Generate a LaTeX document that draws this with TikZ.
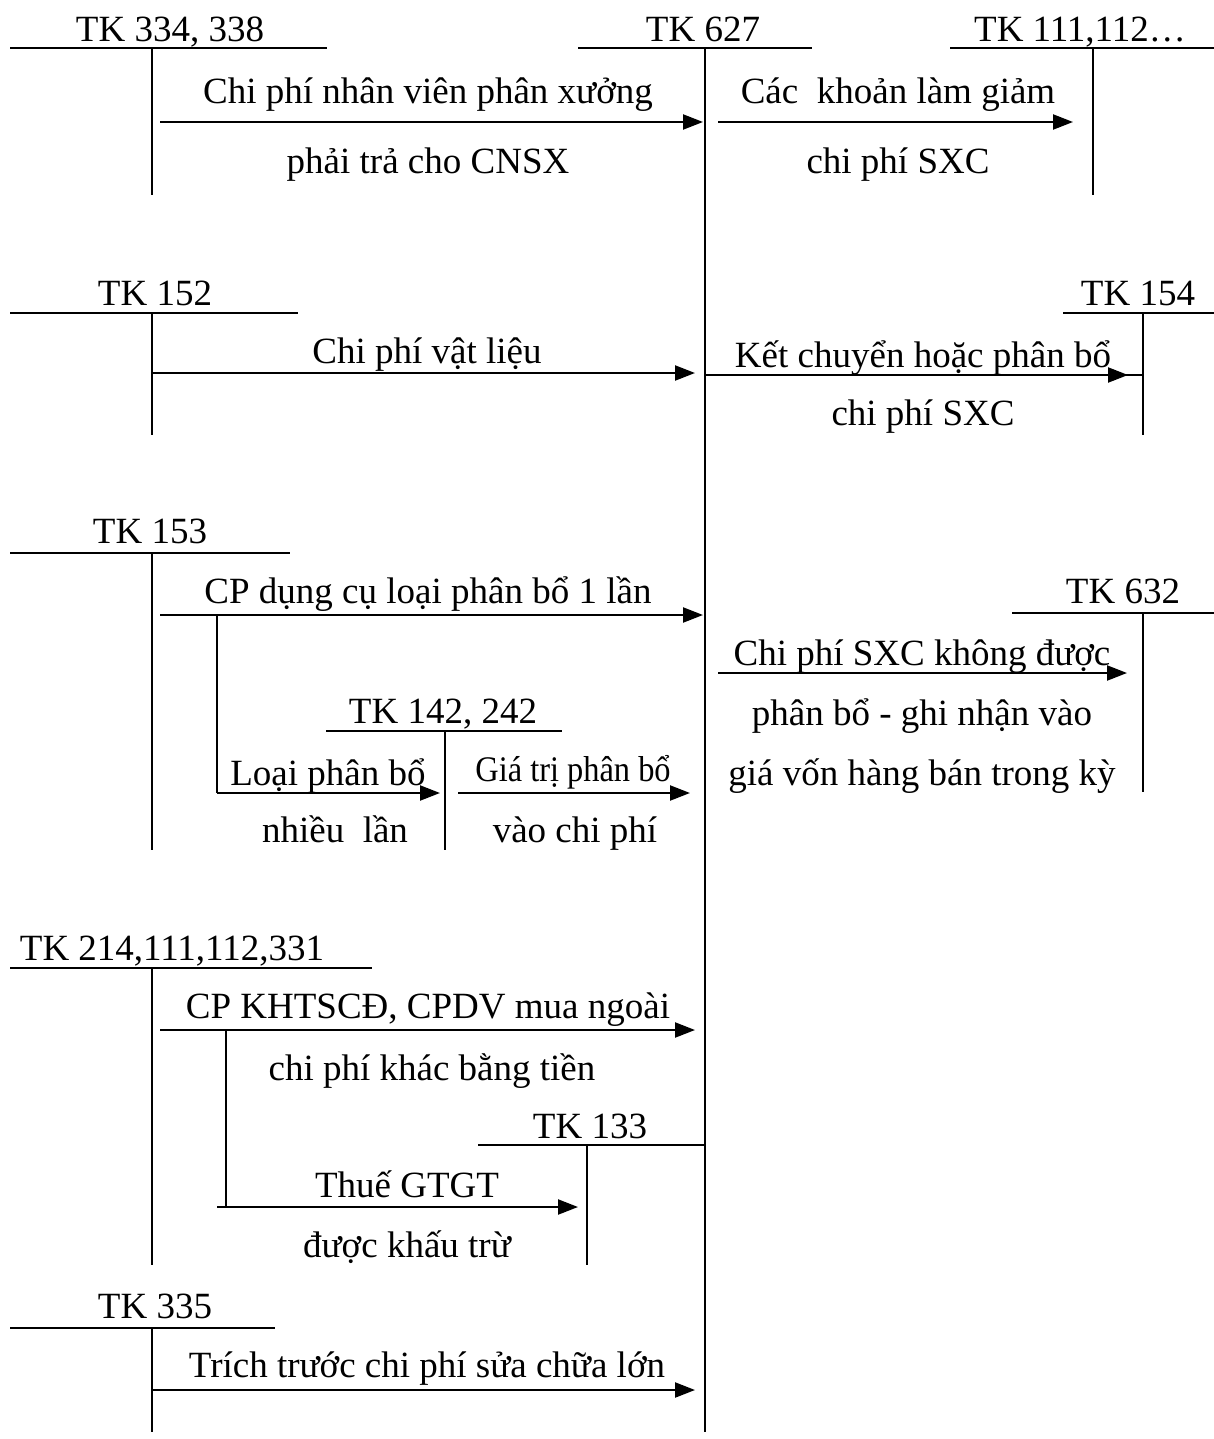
\documentclass[tikz,border=0pt]{standalone}
\usepackage{fontspec}
\usepackage{graphicx}
\setmainfont{Liberation Serif}
\usetikzlibrary{arrows.meta}
\begin{document}
\begin{tikzpicture}[x=1pt,y=-1pt,
  acc/.style={line width=2.2pt},
  flow/.style={line width=2.2pt,-{Triangle[length=20pt,width=15pt]}},
  lbl/.style={anchor=base,inner sep=0pt,font=\fontsize{37}{44}\selectfont},
  narrowlbl/.style={anchor=base,inner sep=0pt,font=\fontsize{36}{43}\selectfont}]
\useasboundingbox (0,0) rectangle (1214,1439);

% ---------- TK 627 (main)
\node[lbl] (t627) at (703,42) {TK 627};
\coordinate (m627L) at (578,48); \coordinate (m627R) at (812,48);
\coordinate (m627T) at (705,48); \coordinate (m627B) at (705,1432);
\draw[acc] (m627L) -- (m627R);
\draw[acc] (m627T) -- (m627B);

% ---------- TK 334, 338
\node[lbl] (t334) at (170,42) {TK 334, 338};
\coordinate (a334L) at (10,48); \coordinate (a334R) at (327,48);
\coordinate (a334T) at (152,48); \coordinate (a334B) at (152,195);
\draw[acc] (a334L) -- (a334R);
\draw[acc] (a334T) -- (a334B);
\coordinate (f1s) at (160,122); \coordinate (f1e) at (703,122);
\draw[flow] (f1s) -- (f1e);
\node[lbl] (l1a) at (428,104) {Chi phí nhân viên phân xưởng};
\node[lbl] (l1b) at (428,174) {phải trả cho CNSX};

% ---------- TK 111,112...
\node[lbl] (t111) at (1080,42) {TK 111,112…};
\coordinate (a111L) at (950,48); \coordinate (a111R) at (1214,48);
\coordinate (a111T) at (1093,48); \coordinate (a111B) at (1093,195);
\draw[acc] (a111L) -- (a111R);
\draw[acc] (a111T) -- (a111B);
\coordinate (f2s) at (718,122); \coordinate (f2e) at (1073,122);
\draw[flow] (f2s) -- (f2e);
\node[lbl] (l2a) at (898,104) {Các\ \ khoản làm giảm};
\node[lbl] (l2b) at (898,174) {chi phí SXC};

% ---------- TK 152
\node[lbl] (t152) at (155,305) {TK 152};
\coordinate (a152L) at (10,313); \coordinate (a152R) at (298,313);
\coordinate (a152T) at (152,313); \coordinate (a152B) at (152,435);
\draw[acc] (a152L) -- (a152R);
\draw[acc] (a152T) -- (a152B);
\coordinate (f3s) at (152,373); \coordinate (f3e) at (695,373);
\draw[flow] (f3s) -- (f3e);
\node[lbl] (l3) at (427,363) {Chi phí vật liệu};

% ---------- TK 154
\node[lbl] (t154) at (1138,305) {TK 154};
\coordinate (a154L) at (1063,313); \coordinate (a154R) at (1214,313);
\coordinate (a154T) at (1143,313); \coordinate (a154B) at (1143,435);
\draw[acc] (a154L) -- (a154R);
\draw[acc] (a154T) -- (a154B);
\coordinate (f4s) at (705,375); \coordinate (f4e) at (1128,375); \coordinate (f4x) at (1143,375);
\draw[acc] (f4s) -- (f4x);
\draw[flow] (f4s) -- (f4e);
\node[lbl] (l4a) at (923,367) {Kết chuyển hoặc phân bổ};
\node[lbl] (l4b) at (923,425) {chi phí SXC};

% ---------- TK 153
\node[lbl] (t153) at (150,543) {TK 153};
\coordinate (a153L) at (10,553); \coordinate (a153R) at (290,553);
\coordinate (a153T) at (152,553); \coordinate (a153B) at (152,850);
\draw[acc] (a153L) -- (a153R);
\draw[acc] (a153T) -- (a153B);
\coordinate (f5s) at (160,615); \coordinate (f5e) at (703,615);
\draw[flow] (f5s) -- (f5e);
\node[lbl] (l5) at (428,603) {CP dụng cụ loại phân bổ 1 lần};
\coordinate (b5t) at (217,615); \coordinate (b5b) at (217,793);
\coordinate (f6e) at (440,793);
\draw[acc] (b5t) -- (b5b);
\draw[flow] (b5b) -- (f6e);
\node[lbl] (l6a) at (328,785) {Loại phân bổ};
\node[lbl] (l6b) at (335,842) {nhiều\ \ lần};

% ---------- TK 142, 242
\node[lbl] (t142) at (443,723) {TK 142, 242};
\coordinate (a142L) at (326,731); \coordinate (a142R) at (562,731);
\coordinate (a142T) at (445,731); \coordinate (a142B) at (445,850);
\draw[acc] (a142L) -- (a142R);
\draw[acc] (a142T) -- (a142B);
\coordinate (f7s) at (458,793); \coordinate (f7e) at (690,793);
\draw[flow] (f7s) -- (f7e);
\node[narrowlbl] (l7a) at (573,781) {\scalebox{0.9}[1]{Giá trị phân bổ}};
\node[lbl] (l7b) at (575,842) {vào chi phí};

% ---------- TK 632
\node[lbl] (t632) at (1123,603) {TK 632};
\coordinate (a632L) at (1012,613); \coordinate (a632R) at (1214,613);
\coordinate (a632T) at (1143,613); \coordinate (a632B) at (1143,792);
\draw[acc] (a632L) -- (a632R);
\draw[acc] (a632T) -- (a632B);
\coordinate (f8s) at (718,673); \coordinate (f8e) at (1127,673);
\draw[flow] (f8s) -- (f8e);
\node[lbl] (l8a) at (922,665) {Chi phí SXC không được};
\node[lbl] (l8b) at (922,725) {phân bổ - ghi nhận vào};
\node[lbl] (l8c) at (922,785) {giá vốn hàng bán trong kỳ};

% ---------- TK 214,111,112,331
\node[lbl] (t214) at (172,960) {TK 214,111,112,331};
\coordinate (a214L) at (10,968); \coordinate (a214R) at (372,968);
\coordinate (a214T) at (152,968); \coordinate (a214B) at (152,1265);
\draw[acc] (a214L) -- (a214R);
\draw[acc] (a214T) -- (a214B);
\coordinate (f9s) at (160,1030); \coordinate (f9e) at (695,1030);
\draw[flow] (f9s) -- (f9e);
\node[lbl] (l9a) at (428,1018) {CP KHTSCĐ, CPDV mua ngoài};
\node[lbl] (l9b) at (432,1080) {chi phí khác bằng tiền};
\coordinate (b9t) at (226,1030); \coordinate (b9b) at (226,1207);
\coordinate (f10s) at (217,1207); \coordinate (f10e) at (578,1207);
\draw[acc] (b9t) -- (b9b);
\draw[flow] (f10s) -- (f10e);
\node[lbl] (l10a) at (407,1197) {Thuế GTGT};
\node[lbl] (l10b) at (407,1257) {được khấu trừ};

% ---------- TK 133
\node[lbl] (t133) at (590,1138) {TK 133};
\coordinate (a133L) at (478,1145); \coordinate (a133R) at (705,1145);
\coordinate (a133T) at (587,1145); \coordinate (a133B) at (587,1265);
\draw[acc] (a133L) -- (a133R);
\draw[acc] (a133T) -- (a133B);

% ---------- TK 335
\node[lbl] (t335) at (155,1318) {TK 335};
\coordinate (a335L) at (10,1328); \coordinate (a335R) at (275,1328);
\coordinate (a335T) at (152,1328); \coordinate (a335B) at (152,1432);
\draw[acc] (a335L) -- (a335R);
\draw[acc] (a335T) -- (a335B);
\coordinate (f11s) at (152,1390); \coordinate (f11e) at (695,1390);
\draw[flow] (f11s) -- (f11e);
\node[lbl] (l11) at (427,1377) {Trích trước chi phí sửa chữa lớn};
\end{tikzpicture}
\end{document}
